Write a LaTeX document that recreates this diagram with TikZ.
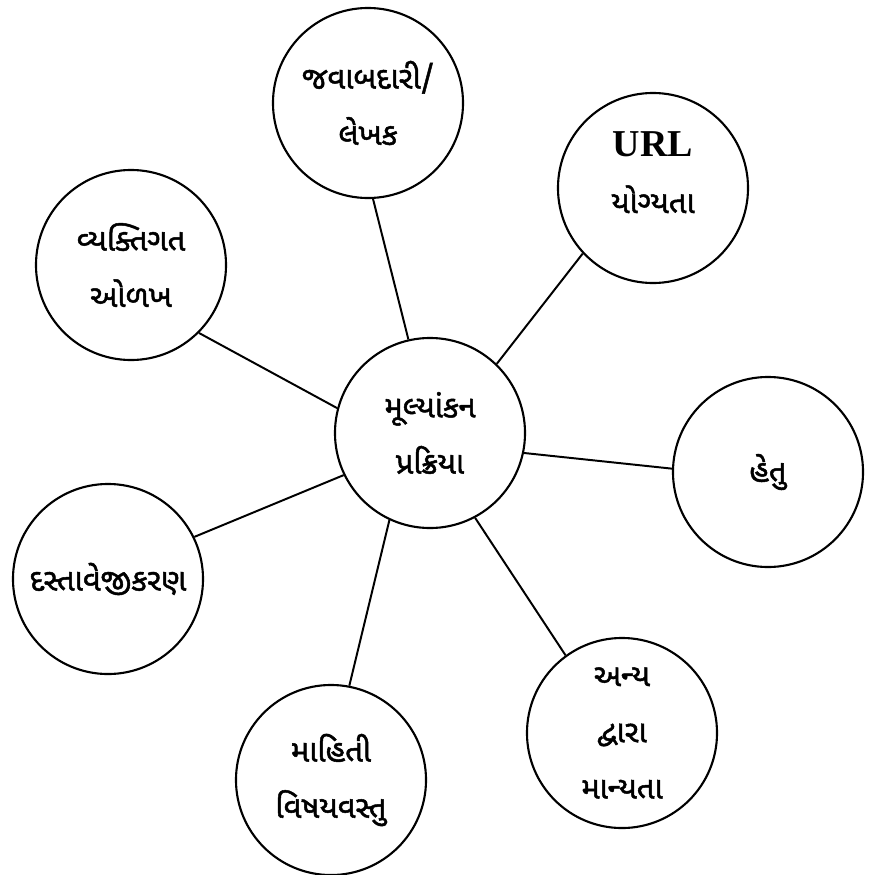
\documentclass[tikz,border=0pt]{standalone}
\usepackage{fontspec}
\newfontfamily\gujfont[Script=Gujarati, FakeBold=1.6]{Noto Sans Gujarati UI}
\newfontfamily\urlfont{Liberation Serif}
\begin{document}
\begin{tikzpicture}[x=0.025cm, y=-0.025cm,
    bubble/.style={circle, draw, line width=1.5pt, minimum size=4.75cm, inner sep=0pt, align=center,
        font=\gujfont\fontsize{22}{40}\selectfont},
    link/.style={line width=1.4pt}]

    \useasboundingbox (0,0) rectangle (869,875);

    % Define the centre of the star
    \node[bubble] (eval) at (430,433) {મૂલ્યાંકન\\પ્રક્રિયા};

    % Define the outer circles
    \node[bubble] (resp) at (368,103) {જવાબદારી/\\લેખક};
    \node[bubble] (url) at (653,188) {{\urlfont\bfseries\fontsize{27}{30}\selectfont URL}\\યોગ્યતા\\[-30pt]\strut};
    \node[bubble] (ident) at (131,265) {વ્યક્તિગત\\ઓળખ};
    \node[bubble] (purpose) at (768,472) {હેતુ};
    \node[bubble] (docu) at (108,579) {દસ્તાવેજીકરણ};
    \node[bubble] (info) at (331,780) {માહિતી\\વિષયવસ્તુ};
    \node[bubble] (others) at (622,733) {અન્ય\\દ્વારા\\માન્યતા};

    % Draw the spokes
    \draw[link] (eval.103.6) -- (resp.273);
    \draw[link] (eval.46.3) -- (url.223.7);
    \draw[link] (eval.165) -- (ident.315.8);
    \draw[link] (eval.348.7) -- (purpose.178);
    \draw[link] (eval.206.3) -- (docu.26.7);
    \draw[link] (eval.245.3) -- (info.79);
    \draw[link] (eval.298) -- (others.126.4);

\end{tikzpicture}
\end{document}
